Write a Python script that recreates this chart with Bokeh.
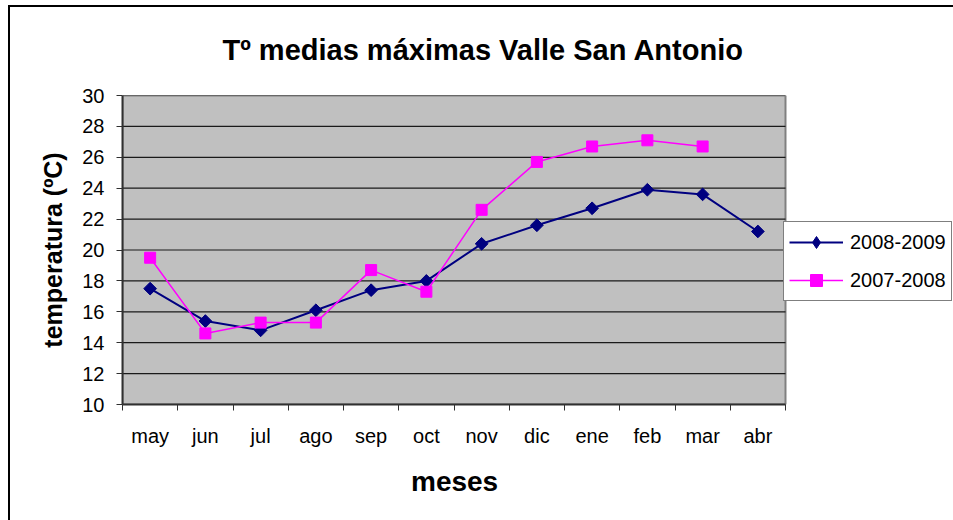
from bokeh.plotting import figure
from bokeh.models import (Range1d, FixedTicker, Legend, LegendItem, Title, ColumnDataSource,
                          LinearAxis)
from bokeh.embed import file_html
from bokeh.resources import INLINE

months = ["may", "jun", "jul", "ago", "sep", "oct", "nov", "dic", "ene", "feb", "mar", "abr"]
t_2008_2009 = [17.5, 15.4, 14.8, 16.1, 17.4, 18.0, 20.4, 21.6, 22.7, 23.9, 23.6, 21.2]
t_2007_2008 = [19.5, 14.6, 15.3, 15.3, 18.7, 17.3, 22.6, 25.7, 26.7, 27.1, 26.7]
y_ticks = [10, 12, 14, 16, 18, 20, 22, 24, 26, 28, 30]
series_names = ["2008-2009", "2007-2008"]

FONT = "Liberation Sans"
NAVY = "#000080"
MAGENTA = "#FF00FF"

# layout (pixels)
W, H = 953, 520
LEFT, TOP, PLOT_W, PLOT_H = 122, 95, 663, 309
n = len(months)
# the frame runs to the right edge so the legend (outside the grey area) is not clipped
x_end = n * (W - LEFT) / PLOT_W

xpos = [i + 0.5 for i in range(n)]
src_a = ColumnDataSource(dict(x=xpos[:len(t_2008_2009)], y=t_2008_2009))
src_b = ColumnDataSource(dict(x=xpos[:len(t_2007_2008)], y=t_2007_2008))

border_bg = ("linear-gradient(#000, #000) 8px 5px / 2px 100% no-repeat, "
             "linear-gradient(#000, #000) 8px 5px / 100% 2px no-repeat, #fff")

p = figure(width=W, height=H, output_backend="svg", toolbar_location=None,
           x_range=Range1d(0, x_end), y_range=Range1d(y_ticks[0], y_ticks[-1]),
           min_border_left=LEFT, min_border_right=0, min_border_top=TOP,
           min_border_bottom=H - TOP - PLOT_H,
           styles={"background": border_bg})
p.title = None
p.border_fill_color = None
p.background_fill_color = None
p.outline_line_color = None
p.xgrid.grid_line_color = None
p.ygrid.grid_line_color = None

# grey plot area and horizontal gridlines
p.quad(left=0, right=n, bottom=y_ticks[0], top=y_ticks[-1], fill_color="#C0C0C0",
       line_color="#808080", line_width=2, level="image")
p.segment(x0=[0] * len(y_ticks), x1=[n] * len(y_ticks), y0=y_ticks, y1=y_ticks,
          line_color="#1a1a1a", line_width=1.2, level="underlay")

# invisible spacer between the frame and the title (lifts the title a little)
spacer = LinearAxis(ticker=FixedTicker(ticks=[]), axis_line_color=None,
                    major_tick_out=5, major_tick_in=0, minor_tick_out=0, minor_tick_in=0,
                    major_tick_line_color=None, minor_tick_line_color=None,
                    major_label_standoff=0)
p.add_layout(spacer, "above")

title = Title(text="T\u00ba medias m\u00e1ximas Valle San Antonio", align="left", offset=100,
              vertical_align="top",
              text_font=FONT, text_font_size="29px", text_font_style="bold", text_color="black",
              standoff=55)
p.add_layout(title, "above")

# y axis
p.yaxis.ticker = FixedTicker(ticks=y_ticks)
p.yaxis.axis_label = "temperatura (\u00baC)"
p.yaxis.axis_label_text_font = FONT
p.yaxis.axis_label_text_font_size = "25px"
p.yaxis.axis_label_text_font_style = "bold"
p.yaxis.axis_label_text_color = "black"
p.yaxis.axis_label_standoff = 12
p.yaxis.major_label_text_font = FONT
p.yaxis.major_label_text_font_size = "20px"
p.yaxis.major_label_text_color = "black"
p.yaxis.major_label_standoff = 12
p.yaxis.major_tick_out = 6
p.yaxis.major_tick_in = 0
p.yaxis.minor_tick_out = 0
p.yaxis.minor_tick_in = 0
p.yaxis.axis_line_color = "#303030"
p.yaxis.axis_line_width = 2
p.yaxis.major_tick_line_color = "#303030"

# x axis: labels at category centres, ticks at category boundaries
p.below[0].bounds = (0, n)
p.below[0].ticker = FixedTicker(ticks=xpos, minor_ticks=list(range(n + 1)))
xax = p.below[0]
xax.major_label_overrides = {x: m for x, m in zip(xpos, months)}
xax.major_tick_out = 0
xax.major_tick_in = 0
xax.minor_tick_out = 6
xax.minor_tick_in = 0
xax.minor_tick_line_color = "#303030"
xax.axis_line_color = "#303030"
xax.axis_line_width = 2
xax.major_label_text_font = FONT
xax.major_label_text_font_size = "20px"
xax.major_label_text_color = "black"
xax.major_label_standoff = 14

# x axis title, centred under the grey plot area
xtitle = Title(text="meses", align="left", offset=PLOT_W / 2 - 43, vertical_align="bottom",
               text_font=FONT, text_font_size="28px", text_font_style="bold",
               text_color="black", standoff=29)
p.add_layout(xtitle, "below")

la = p.line("x", "y", source=src_a, line_color=NAVY, line_width=2)
# plain diamond (used as legend swatch) sits hidden under the rotated-square marker
ma_key = p.scatter("x", "y", source=src_a, marker="diamond", size=11,
                   fill_color=NAVY, line_color=NAVY)
ma = p.scatter("x", "y", source=src_a, marker="square", angle=0.7853981634, size=9,
               fill_color=NAVY, line_color=NAVY)
lb = p.line("x", "y", source=src_b, line_color=MAGENTA, line_width=1.5)
mb = p.scatter("x", "y", source=src_b, marker="square", size=11,
               fill_color=MAGENTA, line_color=MAGENTA)

legend = Legend(items=[LegendItem(label=series_names[0], renderers=[la, ma_key]),
                       LegendItem(label=series_names[1], renderers=[lb, mb])],
                location=(661, 103), orientation="vertical",
                label_text_font=FONT, label_text_font_size="20px", label_text_color="black",
                glyph_width=54, glyph_height=30, label_height=30, label_standoff=7,
                spacing=8, padding=5, margin=0,
                border_line_color="black", border_line_width=1,
                background_fill_color="white", background_fill_alpha=1)
p.add_layout(legend, "center")

open("out.html", "w").write(file_html(p, INLINE))
